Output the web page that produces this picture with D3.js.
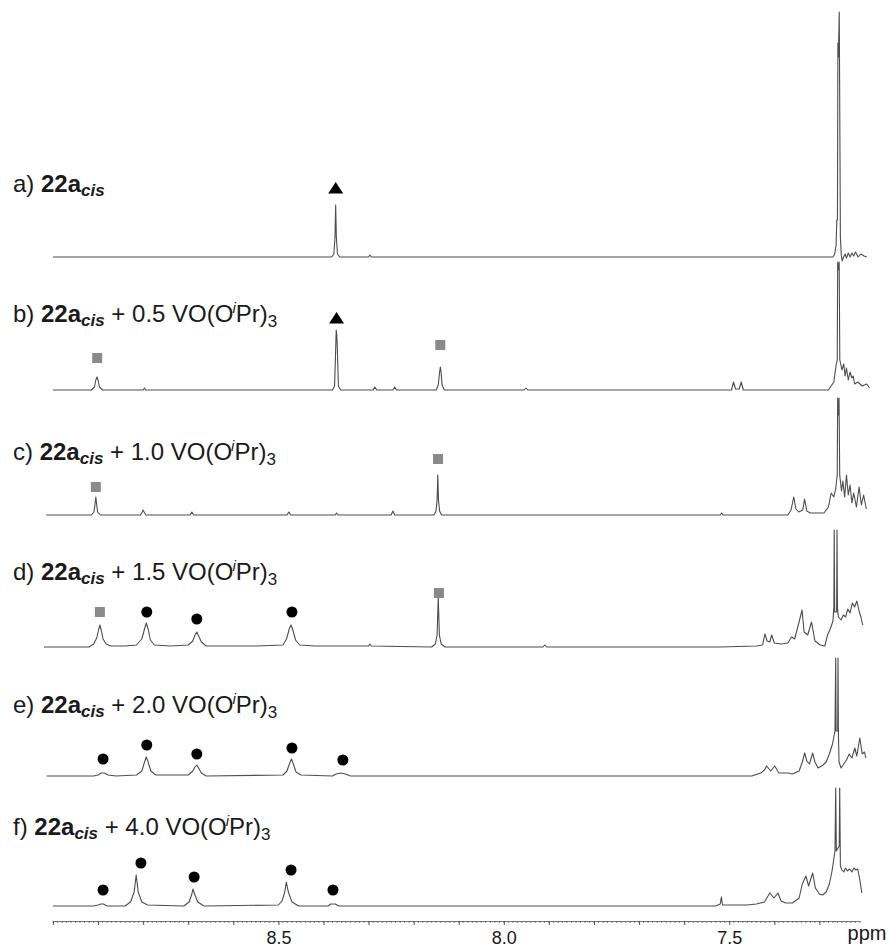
<!DOCTYPE html>
<html>
<head>
<meta charset="utf-8">
<script src="https://cdn.jsdelivr.net/npm/d3@7"></script>
<style>
body { margin: 0; background: #fff; }
svg { display: block; font-family: "Liberation Sans", Arial, sans-serif; }
</style>
</head>
<body>
<svg id="chart" width="889" height="947"></svg>
<script>
'use strict'

// spectra: [ppm, intensity]
const specA = [[9.0,0],[8.6,0],[8.382,0],[8.377,3],[8.3745,20],[8.373,52],[8.3715,20],[8.369,3],[8.364,0],
	[8.30,0],[8.297,2],[8.294,0],[7.40,0],[7.27,0],[7.266,3],[7.263,12],[7.2615,37],[7.2600,37],[7.2590,214],
	[7.2580,200],[7.2560,245],[7.2545,112],[7.2535,20],[7.2515,2],[7.2495,-4],[7.2465,0],[7.243,3],[7.240,-1],
	[7.236,4],[7.232,0],[7.228,4],[7.224,1],[7.220,5],[7.214,0],[7.208,3],[7.201,1],[7.195,0]]

const specB = [[9.0,0],[8.915,0],[8.908,3],[8.905,10],[8.9025,13],[8.900,10],[8.897,3],[8.89,0],[8.80,0],
	[8.797,2],[8.794,0],[8.38,0],[8.3755,4],[8.373,40],[8.3718,60],[8.3705,55],[8.3692,40],[8.367,4],[8.362,0],
	[8.29,0],[8.286,3],[8.282,0],[8.246,0],[8.242,3],[8.238,0],[8.15,0],[8.1455,5],[8.1425,18],[8.1408,23],
	[8.1392,18],[8.137,5],[8.132,0],[7.955,0],[7.951,2],[7.947,0],[7.495,0],[7.4905,8],[7.486,1],[7.478,1],
	[7.4735,8],[7.469,0],[7.28,0],[7.268,8],[7.263,25],[7.2605,30],[7.2595,128],[7.2578,120],[7.2562,128],
	[7.2548,30],[7.250,20],[7.246,26],[7.243,14],[7.240,22],[7.236,10],[7.232,18],[7.228,12],[7.225,14],
	[7.222,6],[7.215,8],[7.205,4],[7.195,6],[7.189,2]]

const specC = [[9.015,0],[8.915,0],[8.909,3],[8.9065,12],[8.905,18],[8.9035,12],[8.901,3],[8.895,0],
	[8.806,0],[8.802,3],[8.800,5],[8.798,3],[8.794,0],[8.696,0],[8.692,3],[8.688,0],[8.481,0],[8.477,3],
	[8.473,0],[8.374,0],[8.371,2],[8.368,0],[8.25,0],[8.246,4],[8.242,0],[8.155,0],[8.1505,4],[8.148,15],
	[8.1465,40],[8.145,15],[8.1425,4],[8.138,0],[7.52,0],[7.517,2],[7.514,0],[7.37,0],[7.363,5],[7.357,18],
	[7.352,6],[7.346,3],[7.337,5],[7.333,16],[7.328,4],[7.32,2],[7.29,2],[7.28,8],[7.274,22],[7.268,18],
	[7.264,26],[7.2605,40],[7.2595,117],[7.258,100],[7.2565,117],[7.255,40],[7.251,24],[7.248,34],[7.244,18],
	[7.240,40],[7.236,20],[7.232,30],[7.228,12],[7.224,22],[7.218,8],[7.212,28],[7.207,10],[7.202,20],[7.196,6]]

const specD = [[9.02,0],[8.92,0],[8.91,3],[8.903,9],[8.899,17],[8.896,22],[8.893,17],[8.889,8],[8.882,3],
	[8.872,1],[8.84,1],[8.815,2],[8.803,8],[8.797,18],[8.793,24],[8.789,18],[8.784,7],[8.775,2],[8.74,1],
	[8.70,2],[8.690,6],[8.685,12],[8.681,15],[8.677,11],[8.671,5],[8.66,1],[8.55,1],[8.49,2],[8.482,8],
	[8.476,18],[8.472,22],[8.468,17],[8.462,7],[8.453,2],[8.42,1],[8.30,1],[8.297,3],[8.294,1],[8.16,0],
	[8.152,3],[8.148,12],[8.1455,50],[8.143,12],[8.139,3],[8.13,0],[7.913,0],[7.909,2],[7.905,0],[7.52,0],
	[7.44,1],[7.426,2],[7.421,13],[7.416,6],[7.410,5],[7.406,12],[7.400,4],[7.385,3],[7.370,4],[7.362,10],
	[7.355,8],[7.348,20],[7.3385,37],[7.334,15],[7.326,12],[7.3175,25],[7.310,6],[7.298,2],[7.288,1],
	[7.282,12],[7.276,18],[7.270,26],[7.268,40],[7.2672,117],[7.2662,35],[7.2618,35],[7.2610,117],[7.2600,40],
	[7.258,30],[7.252,27],[7.247,32],[7.242,30],[7.237,38],[7.232,34],[7.227,44],[7.222,40],[7.217,46],
	[7.212,36],[7.208,30],[7.204,22]]

const specE = [[9.014,0],[8.91,0],[8.90,1],[8.893,3],[8.886,3],[8.878,1],[8.86,0],[8.815,1],[8.803,5],
	[8.797,14],[8.793,19],[8.789,14],[8.783,5],[8.772,1],[8.70,1],[8.690,5],[8.685,9],[8.681,11],[8.677,8],
	[8.671,3],[8.66,0],[8.49,1],[8.481,5],[8.475,13],[8.471,17],[8.467,12],[8.461,4],[8.45,1],[8.38,0],
	[8.372,2],[8.362,3],[8.352,2],[8.34,0],[7.45,0],[7.43,3],[7.422,6],[7.417,10],[7.408,5],[7.399,10],
	[7.39,3],[7.37,3],[7.36,2],[7.345,5],[7.338,14],[7.3326,23],[7.328,15],[7.322,12],[7.315,23],[7.310,14],
	[7.303,8],[7.292,11],[7.285,14],[7.278,22],[7.271,32],[7.2655,45],[7.2639,118],[7.2630,45],[7.2595,45],
	[7.2588,118],[7.2578,40],[7.2565,14],[7.252,8],[7.246,12],[7.240,16],[7.234,22],[7.228,18],[7.2215,28],
	[7.217,20],[7.2105,38],[7.205,22],[7.200,24],[7.197,18]]

const specF = [[9.0,0],[8.91,0],[8.90,1],[8.894,2],[8.888,2],[8.88,0],[8.84,0],[8.828,4],[8.820,14],
	[8.8155,31],[8.811,14],[8.803,4],[8.79,1],[8.71,0],[8.698,4],[8.692,12],[8.6895,17],[8.686,12],[8.679,4],
	[8.665,0],[8.50,1],[8.492,5],[8.486,14],[8.4825,24],[8.478,14],[8.470,4],[8.455,0],[8.39,0],[8.384,2],
	[8.374,2],[8.366,0],[7.53,0],[7.52,2],[7.5175,9],[7.515,1],[7.50,1],[7.46,1],[7.44,2],[7.422,4],
	[7.410,13],[7.401,8],[7.392,13],[7.385,5],[7.375,3],[7.36,3],[7.345,8],[7.338,22],[7.330,30],[7.324,20],
	[7.315,33],[7.309,18],[7.300,12],[7.293,11],[7.285,14],[7.278,22],[7.272,35],[7.2655,55],[7.2639,118],
	[7.2625,55],[7.2560,60],[7.2550,118],[7.2535,40],[7.250,36],[7.246,34],[7.242,38],[7.238,35],[7.233,37],
	[7.228,34],[7.2235,38],[7.219,36],[7.215,37],[7.21,25],[7.206,13]]

// signal markers: [shape, ppm, level above baseline]
const marksA = [['tri', 8.373, 69]]
const marksB = [['sq', 8.902, 32], ['tri', 8.371, 72], ['sq', 8.141, 45]]
const marksC = [['sq', 8.905, 28], ['sq', 8.146, 56]]
const marksD = [['sq', 8.896, 35], ['dot', 8.792, 35], ['dot', 8.681, 28], ['dot', 8.470, 35], ['sq', 8.144, 54]]
const marksE = [['dot', 8.889, 17], ['dot', 8.792, 31], ['dot', 8.681, 22], ['dot', 8.470, 28], ['dot', 8.357, 16]]
const marksF = [['dot', 8.889, 16], ['dot', 8.805, 43], ['dot', 8.687, 29], ['dot', 8.472, 36], ['dot', 8.379, 16]]

const traceIds = ['a', 'b', 'c', 'd', 'e', 'f']
const equivalents = [null, '0.5', '1.0', '1.5', '2.0', '4.0']
const majorTicks = d3.range(73, 91).map(v => v / 10)
const minorTicks = d3.range(721, 901).map(v => v / 100)
const tickLabels = [8.5, 8.0, 7.5]

const spectra = [specA, specB, specC, specD, specE, specF]
const marks = [marksA, marksB, marksC, marksD, marksE, marksF]

// layout
const baselines = [257, 390, 515, 647, 776, 906]
const labelYs = [192, 322, 460, 580, 713, 835]
const axisY = 921

const svg = d3.select('#chart')

const x = d3.scaleLinear().domain([9.0, 7.21]).range([53, 860])
const y = d3.scaleLinear().domain([0, 100]).range([0, -100])

const line = d3.line()
	.x(d => x(d[0]))
	.y(d => y(d[1]))

traceIds.forEach(function(id, i) {
	let g = svg.append('g')
		.attr('class', 'trace trace-' + id)
		.attr('transform', 'translate(0,' + baselines[i] + ')')

	g.append('path')
		.attr('d', line(spectra[i]))
		.attr('fill', 'none')
		.attr('stroke', '#4d4d4d')
		.attr('stroke-width', 1.1)
		.attr('stroke-linejoin', 'round')

	marks[i].forEach(function(m) {
		let mx = x(m[1])
		let my = y(m[2])
		if (m[0] === 'dot') {
			g.append('circle').attr('cx', mx).attr('cy', my).attr('r', 5.5).attr('fill', '#000')
		}
		else if (m[0] === 'sq') {
			g.append('rect').attr('x', mx - 5).attr('y', my - 5).attr('width', 10).attr('height', 10).attr('fill', '#8a8a8a')
		}
		else {
			g.append('path')
				.attr('d', 'M' + mx + ',' + (my - 6) + 'L' + (mx + 7.5) + ',' + (my + 5.5) + 'L' + (mx - 7.5) + ',' + (my + 5.5) + 'Z')
				.attr('fill', '#000')
		}
	})

	// label
	let t = svg.append('text')
		.attr('x', 13)
		.attr('y', labelYs[i])
		.attr('font-size', 24)
		.attr('fill', '#1a1a1a')
	t.append('tspan').text(id + ') ')
	t.append('tspan').attr('font-weight', 'bold').text('22a')
	t.append('tspan').attr('font-weight', 'bold').attr('font-style', 'italic')
		.attr('font-size', 17).attr('dy', 4).text('cis')
	if (equivalents[i]) {
		t.append('tspan').attr('dy', -4).text(' + ' + equivalents[i] + ' VO(O')
		t.append('tspan').attr('font-style', 'italic').attr('font-size', 15)
			.attr('dx', -1).attr('dy', -9).text('i')
		t.append('tspan').attr('dy', 9).text('Pr)')
		t.append('tspan').attr('font-size', 17).attr('dy', 5).text('3')
	}
})

// axis
let axisG = svg.append('g')
	.attr('class', 'axis')
	.attr('transform', 'translate(0,' + axisY + ')')

axisG.selectAll('.minor')
	.data(minorTicks)
	.join('line')
	.attr('class', 'minor')
	.attr('x1', d => x(d)).attr('x2', d => x(d))
	.attr('y1', 0).attr('y2', 2)
	.attr('stroke', '#666')
	.attr('stroke-width', 0.8)

axisG.call(d3.axisBottom(x)
	.tickValues(majorTicks)
	.tickSize(4)
	.tickSizeOuter(0)
	.tickPadding(6)
	.tickFormat(d => tickLabels.includes(d) ? d.toFixed(1) : ''))

axisG.select('.domain').attr('stroke', '#555').attr('stroke-width', 0.8)
axisG.selectAll('.tick line').attr('stroke', '#555')
axisG.selectAll('.tick text')
	.attr('font-size', 18)
	.attr('font-family', '"Liberation Sans", Arial, sans-serif')
	.attr('fill', '#1a1a1a')

svg.append('text')
	.attr('x', 867)
	.attr('y', 940)
	.attr('text-anchor', 'middle')
	.attr('font-size', 20)
	.attr('fill', '#1a1a1a')
	.text('ppm')
</script>
</body>
</html>
